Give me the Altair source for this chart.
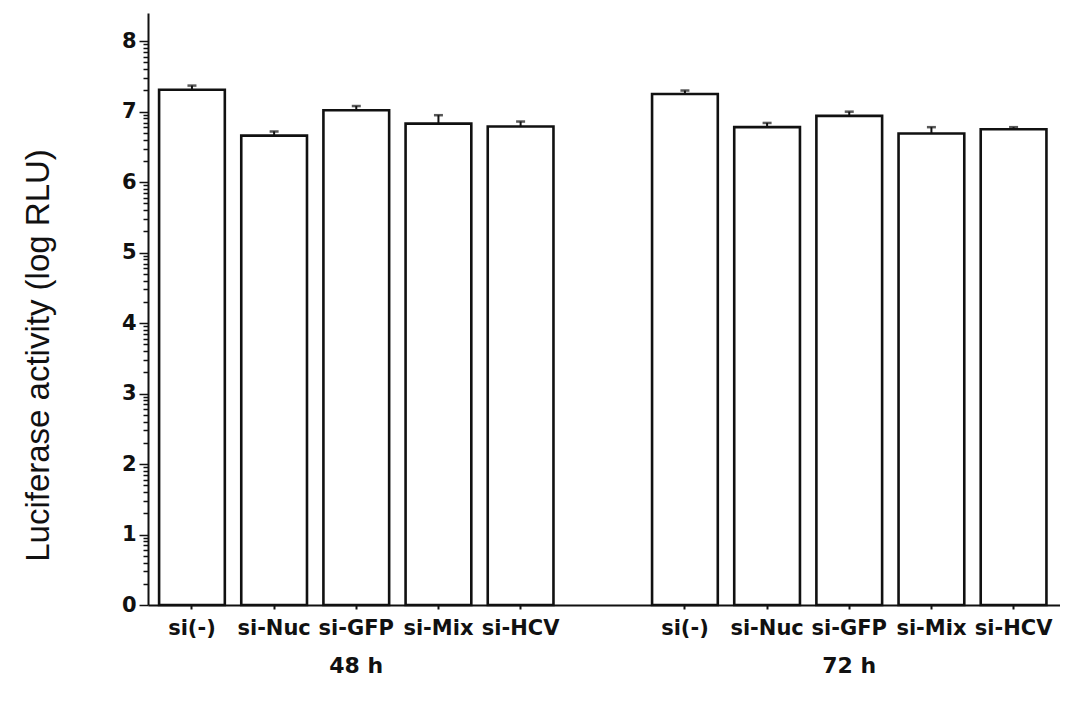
import altair as alt
import pandas as pd
import math

# ---- data ----
groups = ["48 h", "72 h"]
treatments = ["si(-)", "si-Nuc", "si-GFP", "si-Mix", "si-HCV"]
mean_48 = [7.31, 6.66, 7.02, 6.83, 6.79]
err_48 = [0.06, 0.06, 0.06, 0.12, 0.07]
mean_72 = [7.25, 6.78, 6.94, 6.69, 6.75]
err_72 = [0.05, 0.06, 0.06, 0.09, 0.03]

y_max = 8.4
major_ticks = [0, 1, 2, 3, 4, 5, 6, 7, 8]
minor_multipliers = [2, 3, 4, 5, 6, 7, 8, 9]

FONT = "Liberation Sans"
BOLD_FONT = "DejaVu Sans"

rows = []
for g, means, errs in [(groups[0], mean_48, err_48), (groups[1], mean_72, err_72)]:
    for t, m, e in zip(treatments, means, errs):
        rows.append({"key": g + "|" + t, "group": g, "treatment": t,
                     "mean": m, "hi": m + e})
df = pd.DataFrame(rows)

keys_48 = [groups[0] + "|" + t for t in treatments]
keys_72 = [groups[1] + "|" + t for t in treatments]
x_domain = keys_48 + ["gap"] + keys_72

y_values = list(major_ticks)
for k in major_ticks[:-1]:
    for m in minor_multipliers:
        y_values.append(round(k + math.log10(m), 4))
y_values.sort()

x_scale = alt.Scale(domain=x_domain, paddingInner=0.2, paddingOuter=0.15, align=0.45)
x_axis = alt.Axis(
    title=None,
    values=keys_48 + keys_72,
    labelExpr="split(datum.value, '|')[1]",
    labelAngle=0,
    labelFont=BOLD_FONT,
    labelFontSize=21,
    labelFontWeight="bold",
    labelColor="#111",
    labelPadding=8,
    tickSize=4,
    tickWidth=2,
    tickColor="#111",
    domainColor="#111",
    domainWidth=2,
    grid=False,
)

y_scale = alt.Scale(domain=[0, y_max], nice=False, zero=True)
y_axis = alt.Axis(
    title="Luciferase activity (log RLU)",
    titleFont=FONT,
    titleFontSize=33,
    titleFontWeight="normal",
    titleColor="#111",
    titlePadding=66,
    titleY=342,
    values=y_values,
    labelExpr="datum.value == round(datum.value) ? format(datum.value, 'd') : ''",
    labelOverlap=False,
    labelFont=BOLD_FONT,
    labelFontSize=21,
    labelFontWeight="bold",
    labelColor="#111",
    labelPadding=3,
    tickSize={"condition": {"test": "datum.value == round(datum.value)", "value": 9}, "value": 5},
    tickWidth=1.5,
    tickColor="#111",
    domainColor="#111",
    domainWidth=2,
    grid=False,
)

def X():
    return alt.X("key:N", scale=x_scale, sort=x_domain, axis=x_axis)

base = alt.Chart(df)

bars = base.mark_bar(fill="white", stroke="#111", strokeWidth=2.6).encode(
    x=X(),
    y=alt.Y("mean:Q", scale=y_scale, axis=y_axis),
)

err_rule = base.mark_rule(color="#111", strokeWidth=2).encode(
    x=X(),
    y=alt.Y("mean:Q", scale=y_scale, axis=y_axis),
    y2="hi:Q",
)

caps = base.mark_tick(color="#111", size=9, thickness=2.5).encode(
    x=X(),
    y=alt.Y("hi:Q", scale=y_scale, axis=y_axis),
)

label_df = pd.DataFrame({"key": [groups[0] + "|" + treatments[2], groups[1] + "|" + treatments[2]],
                         "label": groups})
group_labels = alt.Chart(label_df).mark_text(
    font=BOLD_FONT, fontSize=22, fontWeight="bold", color="#111", baseline="middle", align="center"
).encode(
    x=X(),
    y=alt.value(653),
    text="label:N",
)

chart = alt.layer(bars, err_rule, caps, group_labels).properties(
    width=912,
    height=592,
    padding={"left": 14, "top": 5, "right": 0, "bottom": 5},
    view=alt.ViewBackground(strokeWidth=0, strokeOpacity=0),
).configure_view(stroke="transparent", strokeWidth=0, strokeOpacity=0).configure_axis(
    grid=False, labelOverlap=False
).configure(background="white")

chart.save("out.html", embed_options={"renderer": "svg", "actions": False})
